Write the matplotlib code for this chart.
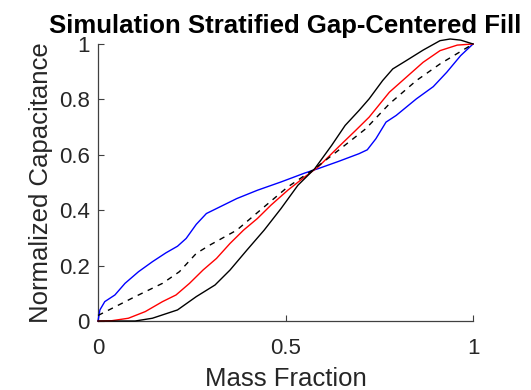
import matplotlib
matplotlib.use("Agg")
import matplotlib.pyplot as plt

plt.rcParams['font.family'] = ['Liberation Sans', 'DejaVu Sans']

blue_x = [0.0, 0.005, 0.018, 0.045, 0.072, 0.108, 0.145, 0.181, 0.212, 0.235, 0.262, 0.289, 0.325, 0.37, 0.425, 0.488, 0.551, 0.587, 0.641, 0.696, 0.718, 0.741, 0.768, 0.795, 0.849, 0.894, 0.93, 0.967, 1.0]
blue_y = [0.0, 0.04, 0.07, 0.094, 0.136, 0.178, 0.214, 0.246, 0.27, 0.298, 0.349, 0.388, 0.412, 0.442, 0.472, 0.502, 0.534, 0.55, 0.576, 0.604, 0.618, 0.658, 0.718, 0.742, 0.802, 0.846, 0.898, 0.958, 1.0]

red_x = [0.0, 0.036, 0.081, 0.126, 0.172, 0.208, 0.244, 0.28, 0.316, 0.352, 0.388, 0.425, 0.461, 0.506, 0.551, 0.587, 0.641, 0.687, 0.723, 0.777, 0.822, 0.867, 0.912, 0.958, 1.0]
red_y = [0.0, 0.001, 0.01, 0.034, 0.07, 0.094, 0.136, 0.184, 0.226, 0.28, 0.328, 0.37, 0.418, 0.472, 0.52, 0.556, 0.628, 0.688, 0.736, 0.826, 0.88, 0.934, 0.976, 0.996, 1.0]

black_x = [0.0, 0.099, 0.145, 0.212, 0.262, 0.312, 0.352, 0.397, 0.443, 0.488, 0.533, 0.578, 0.623, 0.659, 0.696, 0.723, 0.759, 0.786, 0.822, 0.867, 0.912, 0.939, 0.967, 1.0]
black_y = [0.0, 0.0, 0.01, 0.04, 0.088, 0.13, 0.184, 0.256, 0.328, 0.406, 0.49, 0.55, 0.634, 0.706, 0.76, 0.802, 0.868, 0.91, 0.94, 0.978, 1.012, 1.018, 1.014, 1.0]

dash_x = [0.0, 0.099, 0.172, 0.217, 0.262, 0.298, 0.37, 0.443, 0.506, 0.578, 0.641, 0.714, 0.777, 0.849, 0.912, 1.0]
dash_y = [0.02, 0.088, 0.136, 0.178, 0.244, 0.274, 0.328, 0.412, 0.484, 0.55, 0.616, 0.694, 0.784, 0.868, 0.928, 1.0]

x_ticks = [0, 0.5, 1]
x_tick_labels = ['0', '0.5', '1']
y_ticks = [0, 0.2, 0.4, 0.6, 0.8, 1]
y_tick_labels = ['0', '0.2', '0.4', '0.6', '0.8', '1']

fig = plt.figure(figsize=(5.31, 3.9), dpi=100)
ax = fig.add_axes([0.1846, 0.1769, 0.7062, 0.7103])

ax.plot(blue_x, blue_y, color='#0000ff', lw=1.0, clip_on=False, zorder=3)
ax.plot(red_x, red_y, color='#ff0000', lw=1.0, clip_on=False, zorder=3)
ax.plot(black_x, black_y, color='#000000', lw=1.0, clip_on=False, zorder=3)
ax.plot(dash_x, dash_y, color='#000000', lw=1.0, ls=(0, (4, 4)), clip_on=False, zorder=3)

ax.set_xlim(0, 1)
ax.set_ylim(0, 1)
ax.set_xticks(x_ticks)
ax.set_xticklabels(x_tick_labels)
ax.set_yticks(y_ticks)
ax.set_yticklabels(y_tick_labels)

axcol = '#404040'
for s in ['top', 'right']:
    ax.spines[s].set_visible(False)
for s in ['left', 'bottom']:
    ax.spines[s].set_color(axcol)
    ax.spines[s].set_linewidth(0.9)
ax.tick_params(direction='in', length=4, width=0.8, colors=axcol, labelcolor='#262626', labelsize=16, pad=6)
ax.tick_params(axis='x', pad=12)

ax.set_xlabel('Mass Fraction', fontsize=18.5, color='#262626', labelpad=6)
ax.set_ylabel('Normalized Capacitance', fontsize=18.5, color='#262626', labelpad=4)
ax.set_title('Simulation Stratified Gap-Centered Fill', fontsize=18.5, fontweight='bold', color='#000000', pad=8)

fig.savefig('out.png', dpi=100)
